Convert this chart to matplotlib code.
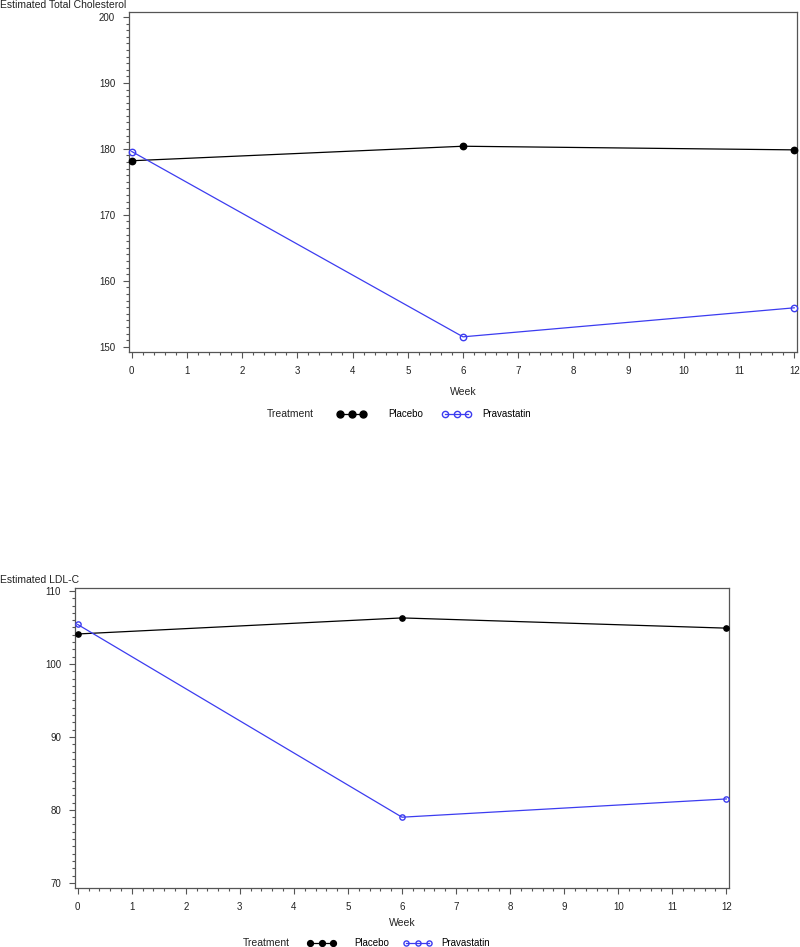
import matplotlib
matplotlib.use("Agg")
import matplotlib.pyplot as plt
from matplotlib.ticker import MultipleLocator
from matplotlib.lines import Line2D

plt.rcParams['font.family'] = ['Liberation Sans', 'DejaVu Sans']

weeks = [0, 6, 12]
tc_placebo = [178.2, 180.4, 179.85]
tc_prava = [179.6, 151.5, 155.9]
ldl_placebo = [104.1, 106.3, 104.9]
ldl_prava = [105.4, 79.0, 81.5]
x_ticks = list(range(0, 13))
series_names = ['Placebo', 'Pravastatin']

BLUE = '#3c3cf0'
SP = '#555555'

fig = plt.figure(figsize=(8, 9.47), dpi=100)

def add_leg(handle, label, x, y, gap):
    fig.legend([handle], [label], loc='center left', bbox_to_anchor=(x, y),
               frameon=False, numpoints=3, handlelength=3.0, handletextpad=gap,
               fontsize=7, borderaxespad=0, borderpad=0)

def panel(rect, plac, prav, ylim, ymaj, ylabel, ylabel_y, week_y, leg_y, treat_x, leg_pos, ms, lms):
    ax = fig.add_axes(rect)
    ax.plot(weeks, plac, color='black', lw=0.9, marker='o', ms=ms, mfc='black', mec='black', clip_on=False, zorder=3)
    ax.plot(weeks, prav, color=BLUE, lw=0.9, marker='o', ms=ms, mfc='none', mec=BLUE, mew=1.0, clip_on=False, zorder=3)
    ax.set_xlim(-0.05, 12.05)
    ax.set_ylim(*ylim)
    ax.set_xticks(x_ticks)
    ax.xaxis.set_minor_locator(MultipleLocator(0.2))
    ax.yaxis.set_major_locator(MultipleLocator(ymaj))
    ax.yaxis.set_minor_locator(MultipleLocator(1))
    ax.tick_params(which='major', direction='out', length=4, width=0.8, labelsize=7, pad=6, colors=SP, labelcolor='#222222')
    ax.tick_params(which='minor', direction='out', length=2, width=0.8, colors=SP)
    for s in ax.spines.values():
        s.set_color(SP)
        s.set_linewidth(0.9)
    fig.text(0.0, ylabel_y, ylabel, fontsize=7.5, ha='left', va='center', color='#222222')
    fig.text((rect[0] + rect[0] + rect[2]) / 2, week_y, 'Week', fontsize=7.5, ha='center', va='center', color='#222222')
    fig.text(treat_x, leg_y, 'Treatment', fontsize=7.5, ha='center', va='center', color='#222222')
    h1 = Line2D([], [], color='black', lw=0.9, marker='o', ms=lms, mfc='black', mec='black')
    h2 = Line2D([], [], color=BLUE, lw=0.9, marker='o', ms=lms - 0.5, mfc='none', mec=BLUE)
    (x1, g1), (x2, g2) = leg_pos
    add_leg(h1, series_names[0], x1, leg_y, g1)
    add_leg(h2, series_names[1], x2, leg_y, g2)
    return ax

panel([0.16125, 0.6283, 0.835, 0.359], tc_placebo, tc_prava, (149.2, 200.75), 10,
      'Estimated Total Cholesterol', 1 - 5 / 947, 1 - 392 / 947, 1 - 414 / 947, 290 / 800,
      [(337 / 800, 2.3), (442 / 800, 1.1)], 4.6, 5.0)
panel([0.09375, 0.0623, 0.8175, 0.3168], ldl_placebo, ldl_prava, (69.3, 110.4), 10,
      'Estimated LDL-C', 1 - 580 / 947, 1 - 923 / 947, 1 - 943 / 947, 266 / 800,
      [(307 / 800, 1.9), (403 / 800, 0.9)], 3.8, 4.2)

fig.savefig('out.png', dpi=100)
